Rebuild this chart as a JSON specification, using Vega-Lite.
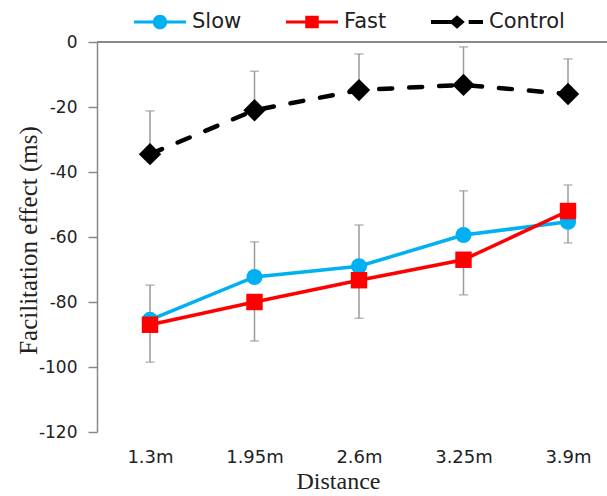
{
  "$schema": "https://vega.github.io/schema/vega-lite/v6.json",
  "width": 510,
  "height": 390,
  "autosize": {"type": "none"},
  "padding": {"left": 97, "top": 42, "right": 0, "bottom": 64},
  "background": "white",
  "data": {
    "values": [
      {"distance": "1.3m", "series": "Slow", "mean": -85.5, "bar": -74.8},
      {"distance": "1.95m", "series": "Slow", "mean": -72.3, "bar": -61.5},
      {"distance": "2.6m", "series": "Slow", "mean": -69, "bar": -56.3},
      {"distance": "3.25m", "series": "Slow", "mean": -59.4, "bar": -45.8},
      {"distance": "3.9m", "series": "Slow", "mean": -55.3, "bar": -44},
      {"distance": "1.3m", "series": "Fast", "mean": -87, "bar": -98.5},
      {"distance": "1.95m", "series": "Fast", "mean": -80, "bar": -92},
      {"distance": "2.6m", "series": "Fast", "mean": -73.3, "bar": -85},
      {"distance": "3.25m", "series": "Fast", "mean": -67, "bar": -77.8},
      {"distance": "3.9m", "series": "Fast", "mean": -52, "bar": -61.8},
      {"distance": "1.3m", "series": "Control", "mean": -34.5, "bar": -21.2},
      {"distance": "1.95m", "series": "Control", "mean": -21, "bar": -9},
      {"distance": "2.6m", "series": "Control", "mean": -14.8, "bar": -3.7},
      {"distance": "3.25m", "series": "Control", "mean": -13.2, "bar": -1.5},
      {"distance": "3.9m", "series": "Control", "mean": -16, "bar": -5.2}
    ]
  },
  "config": {
    "view": {"stroke": null},
    "axisX": {
      "domain": false, "ticks": false, "grid": false,
      "labelFont": "DejaVu Sans", "labelFontSize": 18, "labelColor": "#222", "labelPadding": 16, "labelAngle": 0,
      "titleFont": "Liberation Serif", "titleFontSize": 24, "titleFontWeight": "normal", "titleColor": "#222", "titlePadding": 3, "titleX": 241
    },
    "axisY": {
      "domainColor": "#888", "domainWidth": 1.5, "tickColor": "#888", "tickWidth": 1.5, "tickSize": 9, "grid": false,
      "labelFont": "DejaVu Sans", "labelFontSize": 17, "labelColor": "#222", "labelPadding": 11,
      "labelExpr": "'' + datum.value",
      "titleFont": "Liberation Serif", "titleFontSize": 25, "titleFontWeight": "normal", "titleColor": "#222",
      "titleX": -69, "titleY": 198, "titleAngle": -90, "titleAlign": "center", "titleBaseline": "middle"
    }
  },
  "layer": [
    {
      "mark": {"type": "rule", "color": "#888", "strokeWidth": 1.5},
      "encoding": {
        "y": {"datum": 0, "type": "quantitative", "scale": {"domain": [-120, 0], "nice": false}, "axis": {"values": [0, -20, -40, -60, -80, -100, -120], "title": "Facilitation effect (ms)"}}
      }
    },
    {
      "mark": {"type": "rule", "color": "#9a9a9a", "strokeWidth": 1.5},
      "encoding": {
        "x": {"field": "distance", "type": "ordinal", "sort": ["1.3m", "1.95m", "2.6m", "3.25m", "3.9m"], "scale": {"type": "point", "range": [53, 471], "padding": 0}, "title": "Distance"},
        "y": {"field": "mean", "type": "quantitative"},
        "y2": {"field": "bar"}
      }
    },
    {
      "mark": {"type": "tick", "color": "#9a9a9a", "thickness": 1.5, "size": 9, "orient": "horizontal"},
      "encoding": {
        "x": {"field": "distance", "type": "ordinal", "sort": ["1.3m", "1.95m", "2.6m", "3.25m", "3.9m"]},
        "y": {"field": "bar", "type": "quantitative"}
      }
    },
    {
      "transform": [{"filter": "datum.series == 'Control'"}],
      "mark": {"type": "line", "color": "#000", "strokeWidth": 4.5, "strokeDash": [13, 17], "strokeCap": "round"},
      "encoding": {
        "x": {"field": "distance", "type": "ordinal", "sort": ["1.3m", "1.95m", "2.6m", "3.25m", "3.9m"]},
        "y": {"field": "mean", "type": "quantitative"}
      }
    },
    {
      "transform": [{"filter": "datum.series == 'Slow'"}],
      "mark": {"type": "line", "color": "#00B0F0", "strokeWidth": 3.5},
      "encoding": {
        "x": {"field": "distance", "type": "ordinal", "sort": ["1.3m", "1.95m", "2.6m", "3.25m", "3.9m"]},
        "y": {"field": "mean", "type": "quantitative"}
      }
    },
    {
      "transform": [{"filter": "datum.series == 'Fast'"}],
      "mark": {"type": "line", "color": "#FF0000", "strokeWidth": 3.5},
      "encoding": {
        "x": {"field": "distance", "type": "ordinal", "sort": ["1.3m", "1.95m", "2.6m", "3.25m", "3.9m"]},
        "y": {"field": "mean", "type": "quantitative"}
      }
    },
    {
      "transform": [{"filter": "datum.series == 'Slow'"}],
      "mark": {"type": "point", "shape": "circle", "filled": true, "size": 260, "color": "#00B0F0", "opacity": 1},
      "encoding": {
        "x": {"field": "distance", "type": "ordinal", "sort": ["1.3m", "1.95m", "2.6m", "3.25m", "3.9m"]},
        "y": {"field": "mean", "type": "quantitative"}
      }
    },
    {
      "transform": [{"filter": "datum.series == 'Fast'"}],
      "mark": {"type": "point", "shape": "square", "filled": true, "size": 270, "color": "#FF0000", "opacity": 1},
      "encoding": {
        "x": {"field": "distance", "type": "ordinal", "sort": ["1.3m", "1.95m", "2.6m", "3.25m", "3.9m"]},
        "y": {"field": "mean", "type": "quantitative"}
      }
    },
    {
      "transform": [{"filter": "datum.series == 'Control'"}],
      "mark": {"type": "point", "shape": "diamond", "filled": true, "size": 500, "color": "#000", "opacity": 1},
      "encoding": {
        "x": {"field": "distance", "type": "ordinal", "sort": ["1.3m", "1.95m", "2.6m", "3.25m", "3.9m"]},
        "y": {"field": "mean", "type": "quantitative"}
      }
    },
    {
      "mark": {"type": "point", "filled": true, "opacity": 0, "size": 2704},
      "encoding": {
        "x": {"field": "distance", "type": "ordinal", "sort": ["1.3m", "1.95m", "2.6m", "3.25m", "3.9m"]},
        "y": {"field": "mean", "type": "quantitative"},
        "color": {
          "field": "series", "type": "nominal",
          "scale": {"domain": ["Slow", "Fast", "Control"], "range": ["#00B0F0", "#FF0000", "#000000"]},
          "legend": {
            "orient": "none", "legendX": 37, "legendY": -46, "direction": "horizontal", "title": null,
            "labelFont": "DejaVu Sans", "labelFontSize": 21, "labelColor": "#222", "labelOffset": 6,
            "columnPadding": 44, "symbolStrokeWidth": 0, "symbolSize": 2704, "symbolOpacity": 1, "padding": 0,
            "encode": {"symbols": {"update": {"opacity": {"value": 1}}}}
          }
        },
        "shape": {
          "field": "series", "type": "nominal",
          "scale": {"domain": ["Slow", "Fast", "Control"], "range": [
            "M-1,-0.06H1V0.06H-1Z M0.28,0A0.28,0.28 0 1,1 -0.28,0A0.28,0.28 0 1,1 0.28,0Z",
            "M-1,-0.06H1V0.06H-1Z M-0.26,-0.24H0.26V0.24H-0.26Z",
            "M-1,-0.075H-0.2V0.075H-1Z M0.3,0L0,0.26L-0.3,0L0,-0.26Z M0.45,-0.075H1V0.075H0.45Z"
          ]},
          "legend": {
            "orient": "none", "legendX": 37, "legendY": -46, "direction": "horizontal", "title": null,
            "labelFont": "DejaVu Sans", "labelFontSize": 21, "labelColor": "#222", "labelOffset": 6,
            "columnPadding": 44, "symbolStrokeWidth": 0, "symbolSize": 2704, "symbolOpacity": 1, "padding": 0,
            "encode": {"symbols": {"update": {"opacity": {"value": 1}}}}
          }
        }
      }
    }
  ]
}
